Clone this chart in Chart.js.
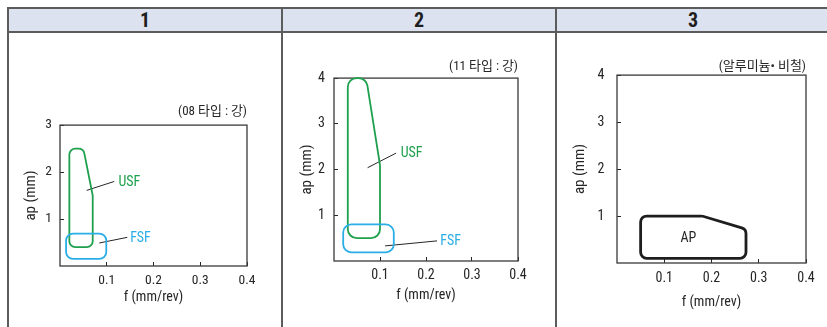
<!DOCTYPE html>
<html lang="ko">
<head>
<meta charset="utf-8">
<script src="https://cdn.jsdelivr.net/npm/chart.js@4.4.1/dist/chart.umd.min.js"></script>
<style>
  html, body { margin: 0; padding: 0; background: #fff; }
  body {
    width: 827px; height: 327px; position: relative; overflow: hidden;
    font-family: 'Roboto Condensed', 'Noto Sans CJK KR', sans-serif;
  }
  .head {
    position: absolute; top: 7px; left: 7px; width: 830px; height: 22px;
    background: #dde2f0; border-top: 2px solid #5c5c5c; border-bottom: 2px solid #5c5c5c;
  }
  .vline { position: absolute; top: 7px; bottom: 0; width: 2px; background: #5c5c5c; }
  .num {
    position: absolute; top: 9px; height: 22px; line-height: 22px; text-align: center;
    font-weight: bold; font-size: 20px; color: #1e1e1e;
  }
  canvas { position: absolute; top: 32px; }
</style>
</head>
<body>
<div class="head"></div>
<div class="vline" style="left:7px"></div>
<div class="vline" style="left:281px"></div>
<div class="vline" style="left:555px"></div>
<div class="num" style="left:9px;width:272px">1</div>
<div class="num" style="left:283px;width:272px">2</div>
<div class="num" style="left:557px;width:272px">3</div>

<canvas id="c08" width="272" height="295" style="left:9px"></canvas>
<canvas id="c11" width="272" height="295" style="left:283px"></canvas>
<canvas id="cal" width="270" height="295" style="left:557px"></canvas>

<script>
/* ---- data ---- */
const fTicks    = ['0.1', '0.2', '0.3', '0.4'];
const apTicks3  = ['1', '2', '3'];
const apTicks4  = ['1', '2', '3', '4'];

/* 1 : 08 type, steel */
const usf08F  = [0.02, 0.05, 0.07, 0.07, 0.02];
const usf08Ap = [2.5, 2.5, 1.5, 0.4, 0.4];
const fsf08F  = [0.013, 0.099, 0.099, 0.013];
const fsf08Ap = [0.69, 0.69, 0.15, 0.15];
const usf08LeadF  = [0.057, 0.116];
const usf08LeadAp = [1.61, 1.80];
const fsf08LeadF  = [0.084, 0.144];
const fsf08LeadAp = [0.49, 0.61];

/* 2 : 11 type, steel */
const usf11F  = [0.03, 0.07, 0.1, 0.1, 0.03];
const usf11Ap = [4.0, 4.0, 2.1, 0.5, 0.5];
const fsf11F  = [0.02, 0.13, 0.13, 0.02];
const fsf11Ap = [0.8, 0.8, 0.19, 0.19];
const usf11LeadF  = [0.073, 0.135];
const usf11LeadAp = [2.04, 2.36];
const fsf11LeadF  = [0.111, 0.224];
const fsf11LeadAp = [0.33, 0.44];

/* 3 : aluminium / non-ferrous */
const apF  = [0.05, 0.18, 0.273, 0.273, 0.05];
const apAp = [1.0, 1.0, 0.72, 0.1, 0.1];

const FONT  = "'Roboto Condensed', 'Noto Sans CJK KR', sans-serif";
const INK   = '#262626';
const GREEN = '#1fa04e';
const BLUE  = '#2aaee6';

const pts = (xs, ys) => xs.map((x, i) => ({ x, y: ys[i] }));

function shape(xs, ys, color, width, corner) {
  return { data: pts(xs, ys), showLine: false, pointRadius: 0, borderColor: color, borderWidth: width, corner };
}
function lead(xs, ys) {
  return { data: pts(xs, ys), showLine: true, pointRadius: 0, borderColor: INK, borderWidth: 1 };
}

/* ---- plugins ---- */
const frame = {
  id: 'frame',
  beforeDatasetsDraw(chart) {
    const { ctx, chartArea: a } = chart;
    ctx.save();
    ctx.strokeStyle = '#3a3a3a';
    ctx.lineWidth = 1.3;
    ctx.strokeRect(a.left, a.top, a.right - a.left, a.bottom - a.top);
    ctx.restore();
  },
};

const dist = (p, q) => Math.hypot(p.x - q.x, p.y - q.y);

/* closed outlines with rounded corners, drawn from the dataset's own points */
const roundShapes = {
  id: 'roundShapes',
  afterDatasetsDraw(chart) {
    const ctx = chart.ctx;
    chart.data.datasets.forEach((ds, i) => {
      if (!ds.corner) return;
      const p = chart.getDatasetMeta(i).data.map(e => ({ x: e.x, y: e.y }));
      const n = p.length;
      ctx.save();
      ctx.beginPath();
      ctx.moveTo((p[n - 1].x + p[0].x) / 2, (p[n - 1].y + p[0].y) / 2);
      for (let k = 0; k < n; k++) {
        const prev = p[(k - 1 + n) % n], cur = p[k], next = p[(k + 1) % n];
        const r = Math.min(ds.corner, dist(prev, cur) / 2, dist(cur, next) / 2);
        ctx.arcTo(cur.x, cur.y, next.x, next.y, r);
      }
      ctx.closePath();
      ctx.strokeStyle = ds.borderColor;
      ctx.lineWidth = ds.borderWidth;
      ctx.lineJoin = 'round';
      ctx.stroke();
      ctx.restore();
    });
  },
};

const tags = {
  id: 'tags',
  afterDatasetsDraw(chart, args, opts) {
    const { ctx, scales: { x, y } } = chart;
    ctx.save();
    ctx.textBaseline = 'middle';
    (opts.items || []).forEach(t => {
      ctx.fillStyle = t.color;
      ctx.textAlign = t.align || 'left';
      ctx.font = '14px ' + FONT;
      ctx.fillText(t.text, x.getPixelForValue(t.f), y.getPixelForValue(t.ap));
    });
    ctx.restore();
  },
};

/* ---- panel builder ---- */
function buildPanel(id, p) {
  const canvas = document.getElementById(id);
  const tickFont  = { family: FONT, size: p.fs };
  const titleFont = { family: FONT, size: 14 };

  return new Chart(canvas.getContext('2d'), {
    type: 'scatter',
    data: { datasets: p.datasets },
    options: {
      responsive: false,
      animation:  false,
      events:     [],
      layout: { padding: { top: p.padTop, right: p.padRight, left: 0, bottom: 0 } },
      plugins: {
        legend:  { display: false },
        tooltip: { enabled: false },
        title: {
          display: true, text: p.note, align: 'end', color: INK,
          font: { family: FONT, size: 13, weight: 'normal' },
          padding: { top: 0, bottom: p.noteGap },
        },
        tags: { items: p.tags },
      },
      scales: {
        x: {
          type: 'linear', min: 0, max: 0.4,
          afterBuildTicks: s => { s.ticks = fTicks.map(t => ({ value: Number(t) })); },
          afterFit: s => { s.height = p.xH; },
          ticks: { callback: (v, i) => fTicks[i], color: INK, font: tickFont, padding: p.xPad, maxRotation: 0, autoSkip: false },
          grid:   { drawOnChartArea: false, drawTicks: true, tickLength: -4, color: INK },
          border: { display: false },
          title:  { display: true, text: 'f (mm/rev)', color: INK, font: titleFont, padding: { top: 0, bottom: p.xTitleGap } },
        },
        y: {
          type: 'linear', min: 0, max: p.apMax,
          afterBuildTicks: s => { s.ticks = p.apTicks.map(t => ({ value: Number(t) })); },
          afterFit: s => { s.width = p.yW; },
          ticks: { callback: (v, i) => p.apTicks[i], color: INK, font: tickFont, padding: p.yPad, autoSkip: false },
          grid:   { drawOnChartArea: false, drawTicks: true, tickLength: -4, color: INK },
          border: { display: false },
          title:  { display: true, text: 'ap (mm)', color: INK, font: { family: FONT, size: 15 }, padding: { top: p.yTitleGap, bottom: 0 } },
        },
      },
    },
    plugins: [frame, roundShapes, tags],
  });
}

buildPanel('c08', {
  note: '(08 타입 : 강)', apMax: 3, apTicks: apTicks3, fs: 13.5,
  padTop: 72, padRight: 34, noteGap: 5.5,
  xH: 61, xPad: 10.5, xTitleGap: 21.5,
  yW: 51, yPad: 12, yTitleGap: 13.7,
  datasets: [
    shape(usf08F, usf08Ap, GREEN, 1.8, 6),
    shape(fsf08F, fsf08Ap, BLUE, 1.8, 7),
    lead(usf08LeadF, usf08LeadAp),
    lead(fsf08LeadF, fsf08LeadAp),
  ],
  tags: [
    { text: 'USF', f: 0.125, ap: 1.77, color: GREEN },
    { text: 'FSF', f: 0.15,  ap: 0.59, color: BLUE },
  ],
});

buildPanel('c11', {
  note: '(11 타입 : 강)', apMax: 4, apTicks: apTicks4, fs: 14,
  padTop: 27, padRight: 37, noteGap: 3.5,
  xH: 66, xPad: 10.5, xTitleGap: 23,
  yW: 51, yPad: 13, yTitleGap: 15,
  datasets: [
    shape(usf11F, usf11Ap, GREEN, 1.8, 9),
    shape(fsf11F, fsf11Ap, BLUE, 1.8, 8),
    lead(usf11LeadF, usf11LeadAp),
    lead(fsf11LeadF, fsf11LeadAp),
  ],
  tags: [
    { text: 'USF', f: 0.145, ap: 2.36, color: GREEN },
    { text: 'FSF', f: 0.231, ap: 0.42, color: BLUE },
  ],
});

buildPanel('cal', {
  note: '(알루미늄• 비철)', apMax: 4, apTicks: apTicks4, fs: 14,
  padTop: 27, padRight: 21, noteGap: 0.5,
  xH: 64, xPad: 11, xTitleGap: 16.5,
  yW: 60, yPad: 16.5, yTitleGap: 14,
  datasets: [
    shape(apF, apAp, '#1e1e1e', 2.8, 6),
  ],
  tags: [
    { text: 'AP', f: 0.151, ap: 0.52, color: INK, align: 'center' },
  ],
});
</script>
</body>
</html>
